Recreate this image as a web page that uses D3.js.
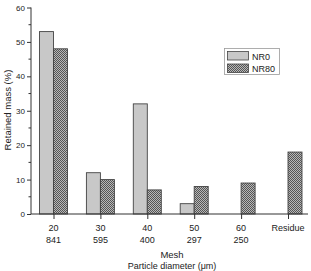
<!DOCTYPE html>
<html><head><meta charset="utf-8">
<script src="https://cdn.jsdelivr.net/npm/d3@7"></script>
<style>body{margin:0;background:#fff}svg{display:block}text{font-family:"Liberation Sans",Arial,sans-serif;fill:#222}</style>
</head><body><div id="c"></div>
<script>
const meshLabels = ["20","30","40","50","60","Residue"];
const diamLabels = ["841","595","400","297","250",""];
const nr0 = [53,12,32,3,0,0];
const nr80 = [48,10,7,8,9,18];
const seriesNames = ["NR0","NR80"];
const yTicks = [0,10,20,30,40,50,60];

const W=311,H=271;
const svg=d3.select("#c").append("svg").attr("width",W).attr("height",H);
const defs=svg.append("defs");
const pat=defs.append("pattern").attr("id","chk").attr("width",2).attr("height",2).attr("patternUnits","userSpaceOnUse");
pat.append("rect").attr("width",2).attr("height",2).attr("fill","#b8b8b8");
pat.append("rect").attr("width",1).attr("height",1).attr("fill","#555");
pat.append("rect").attr("x",1).attr("y",1).attr("width",1).attr("height",1).attr("fill","#555");

const x0=31, xEnd=308;
const y=d3.scaleLinear().domain([0,60]).range([214,7.5]);
const xc=d3.scalePoint().domain(meshLabels).range([53.5,288]);
const bw=14;

const g=svg.append("g");
const data=meshLabels.map((m,i)=>({m,a:nr0[i],b:nr80[i]}));
g.selectAll(".b0").data(data.filter(d=>d.a>0)).join("rect")
 .attr("x",d=>xc(d.m)-bw).attr("y",d=>y(d.a)).attr("width",bw).attr("height",d=>y(0)-y(d.a))
 .attr("fill","#c8c8c8").attr("stroke","#444").attr("stroke-width",0.9);
g.selectAll(".b1").data(data.filter(d=>d.b>0)).join("rect")
 .attr("x",d=>xc(d.m)).attr("y",d=>y(d.b)).attr("width",bw).attr("height",d=>y(0)-y(d.b))
 .attr("fill","url(#chk)").attr("stroke","#444").attr("stroke-width",0.9);

// y axis
const ya=d3.axisLeft(y).tickValues(yTicks).tickSize(4).tickPadding(2);
const yg=svg.append("g").attr("transform",`translate(${x0},0)`).call(ya);
yg.select(".domain").remove();
yg.selectAll("text").style("font-size","8px");
yg.selectAll("line").attr("stroke","#333");
const minor=d3.range(5,60,10);
yg.selectAll(".mn").data(minor).join("line").attr("x1",-2.5).attr("x2",0).attr("y1",d=>y(d)).attr("y2",d=>y(d)).attr("stroke","#333");
svg.append("line").attr("x1",x0).attr("x2",x0).attr("y1",y(60)).attr("y2",y(0)).attr("stroke","#333").attr("stroke-width",1);

// x axis
const xa=d3.axisBottom(xc).tickSize(5).tickFormat("");
const xg=svg.append("g").attr("transform",`translate(0,${y(0)})`).call(xa);
xg.select(".domain").remove();
xg.selectAll("line").attr("stroke","#333");
svg.append("line").attr("x1",x0).attr("x2",xEnd).attr("y1",y(0)).attr("y2",y(0)).attr("stroke","#333").attr("stroke-width",1.2);
svg.selectAll(".ml").data(meshLabels).join("text").attr("x",d=>xc(d)).attr("y",231).attr("text-anchor","middle").style("font-size","9px").text(d=>d);
svg.selectAll(".dl").data(meshLabels.map((m,i)=>({m,t:diamLabels[i]}))).join("text").attr("x",d=>xc(d.m)).attr("y",242.5).attr("text-anchor","middle").style("font-size","9px").text(d=>d.t);

svg.append("text").attr("x",172).attr("y",258).attr("text-anchor","middle").style("font-size","9.5px").text("Mesh");
svg.append("text").attr("x",172).attr("y",269).attr("text-anchor","middle").style("font-size","9px").text("Particle diameter (μm)");
svg.append("text").attr("transform","translate(10.5,110) rotate(-90)").attr("text-anchor","middle").style("font-size","9.5px").text("Retained mass (%)");

// legend
const lg=svg.append("g");
lg.append("rect").attr("x",224.5).attr("y",48.5).attr("width",55).attr("height",26).attr("fill","#fff").attr("stroke","#999").attr("stroke-width",0.8);
const fills=["#c8c8c8","url(#chk)"];
seriesNames.forEach((s,i)=>{
  lg.append("rect").attr("x",227.5).attr("y",51.5+i*12.5).attr("width",21).attr("height",8.5).attr("fill",fills[i]).attr("stroke","#444").attr("stroke-width",0.8);
  lg.append("text").attr("x",252).attr("y",59.5+i*12.5).style("font-size","9px").text(s);
});
</script></body></html>
